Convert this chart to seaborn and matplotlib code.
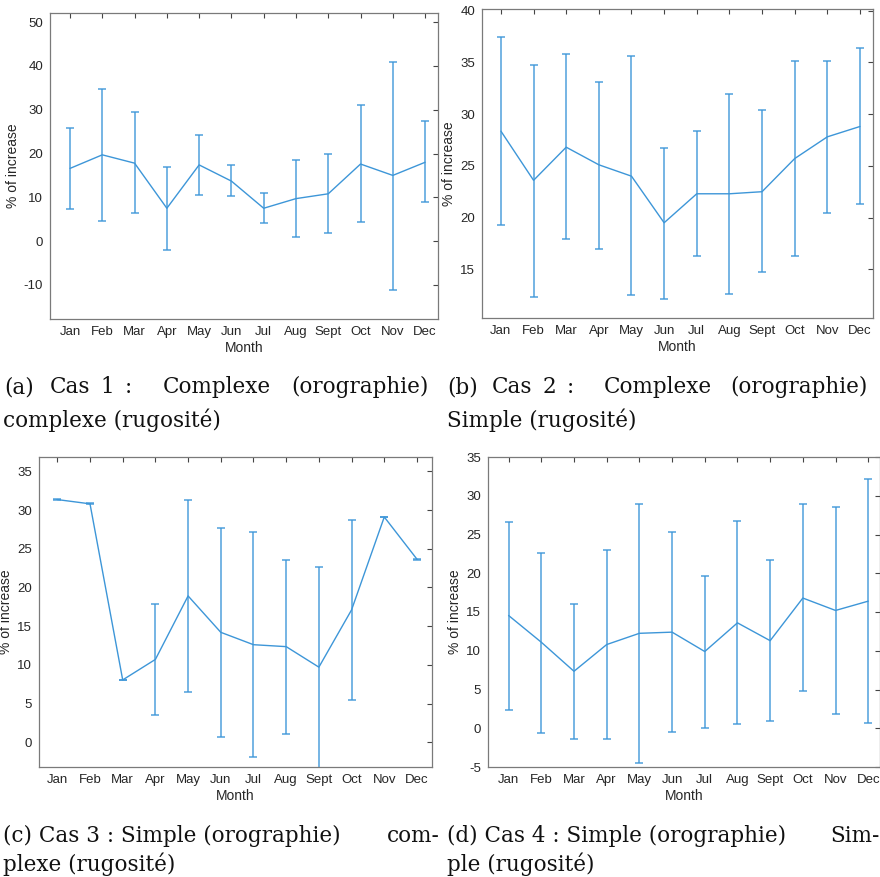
import numpy as np
import pandas as pd
import matplotlib
matplotlib.use("Agg")
import matplotlib.pyplot as plt
import seaborn as sns

months = ["Jan", "Feb", "Mar", "Apr", "May", "Jun", "Jul", "Aug", "Sept", "Oct", "Nov", "Dec"]

# Case 1
mean_a = [16.6, 19.7, 17.8, 7.5, 17.4, 13.7, 7.5, 9.7, 10.8, 17.6, 15.0, 18.0]
upper_a = [25.9, 34.8, 29.4, 16.9, 24.3, 17.3, 10.9, 18.5, 19.8, 31.0, 40.9, 27.5]
lower_a = [7.3, 4.6, 6.3, -2.0, 10.6, 10.2, 4.1, 0.9, 1.9, 4.4, -11.2, 8.9]

# Case 2
mean_b = [28.35, 23.6, 26.8, 25.1, 24.0, 19.5, 22.3, 22.3, 22.5, 25.7, 27.8, 28.8]
upper_b = [37.4, 34.7, 35.85, 33.1, 35.6, 26.7, 28.35, 31.9, 30.35, 35.1, 35.1, 36.4]
lower_b = [19.3, 12.3, 17.9, 17.0, 12.5, 12.1, 16.3, 12.65, 14.7, 16.3, 20.4, 21.3]

# Case 3
mean_c = [31.35, 30.8, 8.05, 10.7, 18.9, 14.2, 12.6, 12.35, 9.7, 17.1, 29.1, 23.65]
upper_c = [31.4, 30.85, 8.1, 17.8, 31.3, 27.65, 27.1, 23.6, 22.6, 28.7, 29.15, 23.7]
lower_c = [31.3, 30.75, 8.0, 3.5, 6.5, 0.7, -1.9, 1.1, -3.3, 5.5, 29.05, 23.6]

# Case 4
mean_d = [14.55, 11.1, 7.35, 10.8, 12.25, 12.4, 9.9, 13.6, 11.3, 16.8, 15.2, 16.4]
upper_d = [26.65, 22.65, 16.05, 22.95, 28.95, 25.3, 19.7, 26.7, 21.7, 28.95, 28.6, 32.2]
lower_d = [2.4, -0.6, -1.4, -1.4, -4.5, -0.5, 0.0, 0.5, 1.0, 4.8, 1.8, 0.7]

sns.set_theme(style="white")
plt.rcParams["font.family"] = ["Liberation Sans", "DejaVu Sans"]

W, H = 880, 877
fig = plt.figure(figsize=(W / 100, H / 100), dpi=100)

color = "#3d96d8"
edge = "#7a7a7a"

panels = [
    # (mean, lower, upper, box px (left, right, top, bottom), xlim, ylim, yticks)
    (mean_a, lower_a, upper_a, (50, 438, 13, 319), (0.38, 12.4), (-17.8, 52.1), list(range(-10, 51, 10))),
    (mean_b, lower_b, upper_b, (482, 873, 9, 318), (0.42, 12.4), (10.3, 40.15), list(range(15, 41, 5))),
    (mean_c, lower_c, upper_c, (39, 432, 457, 767), (0.44, 12.46), (-3.2, 36.85), list(range(0, 36, 5))),
    (mean_d, lower_d, upper_d, (488, 880, 457, 767), (0.37, 12.36), (-5, 35), list(range(-5, 36, 5))),
]

for mean, lower, upper, (l, r, t, b), xl, yl, yt in panels:
    ax = fig.add_axes([l / W, 1 - b / H, (r - l) / W, (b - t) / H])
    df = pd.DataFrame({"x": np.arange(1, 13), "mean": mean, "lower": lower, "upper": upper})
    sns.lineplot(data=df, x="x", y="mean", ax=ax, color=color, lw=1.0)
    m = df["mean"].to_numpy()
    ax.errorbar(df["x"], m, yerr=[m - df["lower"].to_numpy(), df["upper"].to_numpy() - m],
                fmt="none", ecolor=color, elinewidth=1.1, capsize=3.2, capthick=1.1, alpha=0.9)
    ax.set_xlim(*xl)
    ax.set_ylim(*yl)
    ax.set_xticks(np.arange(1, 13))
    ax.set_xticklabels(months)
    ax.set_yticks(yt)
    ax.set_yticklabels([str(v) for v in yt])
    ax.tick_params(axis="both", direction="in", length=3.5, width=0.8, color="#444444",
                   labelsize=9.5, labelcolor="#262626", top=True, right=True, pad=5)
    for sp in ax.spines.values():
        sp.set_color(edge)
        sp.set_linewidth(0.9)
    ax.set_xlabel("Month", fontsize=10, color="#262626", labelpad=2)
    ax.set_ylabel("% of increase", fontsize=10, color="#262626", labelpad=3)

cap_font = dict(family=["DejaVu Serif"], fontsize=15.5, color="#111111", va="baseline")

captions = [
    # (baseline y px, alignment, [(x px, text), ...])
    (393, "center", [(19, "(a)"), (70, "Cas"), (107, "1"), (128, ":"), (217, "Complexe"), (360, "(orographie)")]),
    (427, "left", [(3, "complexe (rugosité)")]),
    (393, "center", [(463, "(b)"), (512, "Cas"), (549, "2"), (570, ":"), (658, "Complexe"), (799, "(orographie)")]),
    (427, "left", [(447, "Simple (rugosité)")]),
    (842, "left", [(3, "(c) Cas 3 : Simple (orographie)")]),
    (842, "right", [(440, "com-")]),
    (871, "left", [(3, "plexe (rugosité)")]),
    (842, "left", [(447, "(d) Cas 4 : Simple (orographie)")]),
    (842, "right", [(880, "Sim-")]),
    (871, "left", [(447, "ple (rugosité)")]),
]
for y, ha, words in captions:
    for x, w in words:
        fig.text(x / W, 1 - y / H, w, ha=ha, **cap_font)

fig.savefig("out.png", dpi=100)
